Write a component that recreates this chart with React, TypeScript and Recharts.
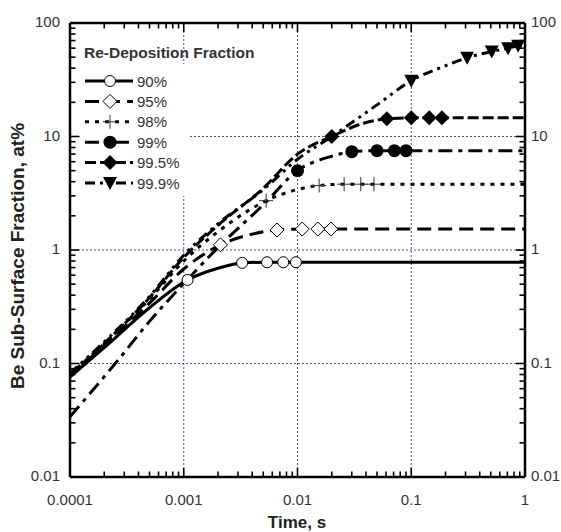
import React from "react";
import { LineChart, Line, XAxis, YAxis, ReferenceLine } from "recharts";

// time (s) and Be sub-surface fraction (at%)
const t90 = [0.0001, 0.0002, 0.0005, 0.00108, 0.002, 0.00326, 0.0054, 0.0075, 0.0097, 0.1, 1];
const v90 = [0.076, 0.138, 0.31, 0.545, 0.69, 0.77, 0.78, 0.78, 0.78, 0.78, 0.78];
const m90 = [0.00108, 0.00326, 0.0054, 0.0075, 0.0097];

const t95 = [0.0001, 0.0002, 0.0005, 0.001, 0.0021, 0.004, 0.0066, 0.011, 0.0151, 0.0197, 0.1, 1];
const v95 = [0.078, 0.145, 0.34, 0.68, 1.11, 1.38, 1.5, 1.53, 1.53, 1.53, 1.53, 1.53];
const m95 = [0.0021, 0.0066, 0.011, 0.0151, 0.0197];

const t98 = [0.0001, 0.0002, 0.0005, 0.001, 0.002, 0.0035, 0.0053, 0.008, 0.0155, 0.0257, 0.036, 0.047, 0.1, 1];
const v98 = [0.08, 0.15, 0.37, 0.8, 1.45, 2.15, 2.72, 3.2, 3.7, 3.8, 3.8, 3.8, 3.8, 3.8];
const m98 = [0.0053, 0.0155, 0.0257, 0.036, 0.047];

const t99 = [0.0001, 0.00025, 0.0005, 0.00108, 0.002, 0.005, 0.01, 0.02, 0.03, 0.05, 0.071, 0.09, 1];
const v99 = [0.034, 0.1, 0.235, 0.55, 1.05, 2.5, 5.0, 6.7, 7.35, 7.5, 7.5, 7.5, 7.5];
const m99 = [0.01, 0.03, 0.05, 0.071, 0.09];

const t995 = [0.0001, 0.0002, 0.0005, 0.001, 0.002, 0.005, 0.01, 0.02, 0.04, 0.061, 0.1, 0.144, 0.186, 1];
const v995 = [0.08, 0.15, 0.38, 0.86, 1.65, 3.5, 7.0, 10, 13.3, 14.3, 14.6, 14.6, 14.6, 14.6];
const m995 = [0.02, 0.061, 0.1, 0.144, 0.186];

const t999 = [0.0001, 0.0002, 0.0005, 0.001, 0.002, 0.005, 0.01, 0.02, 0.05, 0.1, 0.2, 0.31, 0.51, 0.71, 0.87, 1];
const v999 = [0.082, 0.155, 0.39, 0.9, 1.7, 3.4, 6.3, 10, 19, 31, 42, 49.5, 56, 60, 63, 64];
const m999 = [0.1, 0.31, 0.51, 0.71, 0.87];

const xLabels = ["0.0001", "0.001", "0.01", "0.1", "1"];
const yLabels = ["0.01", "0.1", "1", "10", "100"];

const FONT = "'Liberation Sans', Arial, sans-serif";
const X0 = 0.0001, X1 = 1, Y0 = 0.01, Y1 = 100;

function logTicks(from: number, to: number) {
  const out: number[] = [];
  for (let d = from; d < to; d++) {
    for (let m = 1; m <= 9; m++) out.push(Number((m * Math.pow(10, d)).toPrecision(3)));
  }
  out.push(Math.pow(10, to));
  return out;
}
const xTicks = logTicks(-4, 0);
const yTicks = logTicks(-2, 2);
const isMajor = (v: number) => Math.abs(Math.log10(v) - Math.round(Math.log10(v))) < 1e-6;

// inward tick length expressed as a factor on the log axes (~113.5 px per decade)
const tickFactor = (v: number) => Math.pow(10, (isMajor(v) ? 9 : 5.5) / 113.5);

const build = (t: number[], v: number[], m: number[]) => t.map((x, i) => ({ x, y: v[i], mk: m.includes(x) }));

const series = [
  { name: "90%", data: build(t90, v90, m90), dash: undefined, shape: "circleOpen" },
  { name: "95%", data: build(t95, v95, m95), dash: "14 7", shape: "diamondOpen" },
  { name: "98%", data: build(t98, v98, m98), dash: "4 6", shape: "plus" },
  { name: "99%", data: build(t99, v99, m99), dash: "14 6 4 6", shape: "circleFilled" },
  { name: "99.5%", data: build(t995, v995, m995), dash: "11 4", shape: "diamondFilled" },
  { name: "99.9%", data: build(t999, v999, m999), dash: "10 5 3 5 3 5", shape: "triangle" },
];

function Marker({ shape, cx, cy }: { shape: string; cx: number; cy: number }) {
  switch (shape) {
    case "circleOpen":
      return <circle cx={cx} cy={cy} r={5.5} fill="#fff" stroke="#000" strokeWidth={1} />;
    case "diamondOpen":
      return (
        <polygon
          points={`${cx},${cy - 7} ${cx + 7},${cy} ${cx},${cy + 7} ${cx - 7},${cy}`}
          fill="#fff"
          stroke="#000"
          strokeWidth={1}
        />
      );
    case "plus":
      return (
        <g stroke="#333" strokeWidth={1}>
          <line x1={cx - 7} x2={cx + 7} y1={cy} y2={cy} />
          <line x1={cx} x2={cx} y1={cy - 7} y2={cy + 7} />
        </g>
      );
    case "circleFilled":
      return <circle cx={cx} cy={cy} r={6.5} fill="#000" />;
    case "diamondFilled":
      return <polygon points={`${cx},${cy - 7.5} ${cx + 7.5},${cy} ${cx},${cy + 7.5} ${cx - 7.5},${cy}`} fill="#000" />;
    default:
      return <polygon points={`${cx - 7},${cy - 6} ${cx + 7},${cy - 6} ${cx},${cy + 7}`} fill="#000" />;
  }
}

const makeDot = (shape: string) => (p: any) => {
  if (!p.payload || !p.payload.mk || p.cx == null) return <g key={p.index} />;
  return (
    <g key={p.index}>
      <Marker shape={shape} cx={p.cx} cy={p.cy} />
    </g>
  );
};

const tickText = { fontFamily: FONT, fontSize: 15, fill: "#333" };

const BottomLabel = (p: any) => {
  const v = p.payload.value;
  if (!isMajor(v)) return <g />;
  return (
    <text x={p.x} y={p.y + 28} textAnchor="middle" {...tickText}>
      {xLabels[Math.round(Math.log10(v)) + 4]}
    </text>
  );
};

const LeftLabel = (p: any) => {
  const v = p.payload.value;
  if (!isMajor(v)) return <g />;
  return (
    <text x={p.x - 10} y={p.y + 4} textAnchor="end" {...tickText}>
      {yLabels[Math.round(Math.log10(v)) + 2]}
    </text>
  );
};

const RightLabel = (p: any) => {
  const v = p.payload.value;
  if (!isMajor(v)) return <g />;
  return (
    <text x={p.x + 6} y={p.y + 4} textAnchor="start" {...tickText}>
      {yLabels[Math.round(Math.log10(v)) + 2]}
    </text>
  );
};

const gridColor = "#4a4ab5";
const axisLine = { stroke: "#000", strokeWidth: 2.5 };
const tickLineStyle = { stroke: "#000", strokeWidth: 1.6 };

export default function App() {
  return (
    <div style={{ position: "absolute", left: 0, top: 0, width: 561, height: 532, background: "#fff" }}>
      <LineChart width={561} height={532} margin={{ top: 23, right: 0, bottom: 0, left: 0 }}>
        {[0.001, 0.01, 0.1].map((v) => (
          <ReferenceLine key={"gx" + v} x={v} xAxisId="b" yAxisId="l" stroke={gridColor} strokeDasharray="2 2" strokeWidth={1} />
        ))}
        {[0.1, 1, 10].map((v) => (
          <ReferenceLine key={"gy" + v} y={v} xAxisId="b" yAxisId="l" stroke={gridColor} strokeDasharray="2 2" strokeWidth={1} />
        ))}
        {series.map((s) => (
          <Line
            key={s.name}
            xAxisId="b"
            yAxisId="l"
            data={s.data}
            dataKey="y"
            type="monotone"
            stroke="#000"
            strokeWidth={3}
            strokeDasharray={s.dash}
            dot={makeDot(s.shape)}
            activeDot={false}
            isAnimationActive={false}
          />
        ))}
        {/* inward ticks on all four sides */}
        {xTicks.map((v) => (
          <ReferenceLine
            key={"tb" + v}
            xAxisId="b"
            yAxisId="l"
            ifOverflow="visible"
            segment={[{ x: v, y: Y0 }, { x: v, y: Y0 * tickFactor(v) }]}
            {...tickLineStyle}
          />
        ))}
        {xTicks.map((v) => (
          <ReferenceLine
            key={"tt" + v}
            xAxisId="b"
            yAxisId="l"
            ifOverflow="visible"
            segment={[{ x: v, y: Y1 }, { x: v, y: Y1 / tickFactor(v) }]}
            {...tickLineStyle}
          />
        ))}
        {yTicks.map((v) => (
          <ReferenceLine
            key={"tl" + v}
            xAxisId="b"
            yAxisId="l"
            ifOverflow="visible"
            segment={[{ x: X0, y: v }, { x: X0 * tickFactor(v), y: v }]}
            {...tickLineStyle}
          />
        ))}
        {yTicks.map((v) => (
          <ReferenceLine
            key={"tr" + v}
            xAxisId="b"
            yAxisId="l"
            ifOverflow="visible"
            segment={[{ x: X1, y: v }, { x: X1 / tickFactor(v), y: v }]}
            {...tickLineStyle}
          />
        ))}
        <ReferenceLine y={Y1} xAxisId="b" yAxisId="l" ifOverflow="visible" stroke="#000" strokeWidth={2.5} />
        <XAxis
          xAxisId="b"
          type="number"
          scale="log"
          dataKey="x"
          domain={[X0, X1]}
          allowDataOverflow
          ticks={xTicks}
          interval={0}
          tickSize={0}
          tickMargin={0}
          tickLine={false}
          tick={BottomLabel}
          height={55}
          axisLine={axisLine}
        />
        <YAxis
          yAxisId="l"
          type="number"
          scale="log"
          dataKey="y"
          domain={[Y0, Y1]}
          allowDataOverflow
          ticks={yTicks}
          interval={0}
          tickSize={0}
          tickMargin={0}
          tickLine={false}
          tick={LeftLabel}
          width={70}
          axisLine={axisLine}
        />
        <YAxis
          yAxisId="r"
          orientation="right"
          type="number"
          scale="log"
          dataKey="y"
          domain={[Y0, Y1]}
          allowDataOverflow
          ticks={yTicks}
          interval={0}
          tickSize={0}
          tickMargin={0}
          tickLine={false}
          tick={RightLabel}
          width={36}
          axisLine={axisLine}
        />
      </LineChart>
      <svg
        width={561}
        height={532}
        style={{ position: "absolute", left: 0, top: 0, pointerEvents: "none" }}
      >
        <rect x={81} y={64} width={107} height={132} fill="#fff" />
        <text x={84} y={57.5} fontFamily={FONT} fontSize={15.5} fontWeight="bold" fill="#333">
          Re-Deposition Fraction
        </text>
        {series.map((s, i) => {
          const y = 81 + i * 20.4;
          return (
            <g key={s.name}>
              <line x1={85} x2={133} y1={y} y2={y} stroke="#000" strokeWidth={3} strokeDasharray={s.dash} />
              <Marker shape={s.shape} cx={110} cy={y} />
              <text x={137} y={y + 5.5} fontFamily={FONT} fontSize={15} fill="#333">
                {s.name}
              </text>
            </g>
          );
        })}
        <text x={297} y={528} textAnchor="middle" fontFamily={FONT} fontSize={17} fontWeight="bold" fill="#222">
          Time, s
        </text>
        <text
          transform="translate(24,256) rotate(-90)"
          textAnchor="middle"
          fontFamily={FONT}
          fontSize={19}
          fontWeight="bold"
          fill="#222"
        >
          Be Sub-Surface Fraction, at%
        </text>
      </svg>
    </div>
  );
}
